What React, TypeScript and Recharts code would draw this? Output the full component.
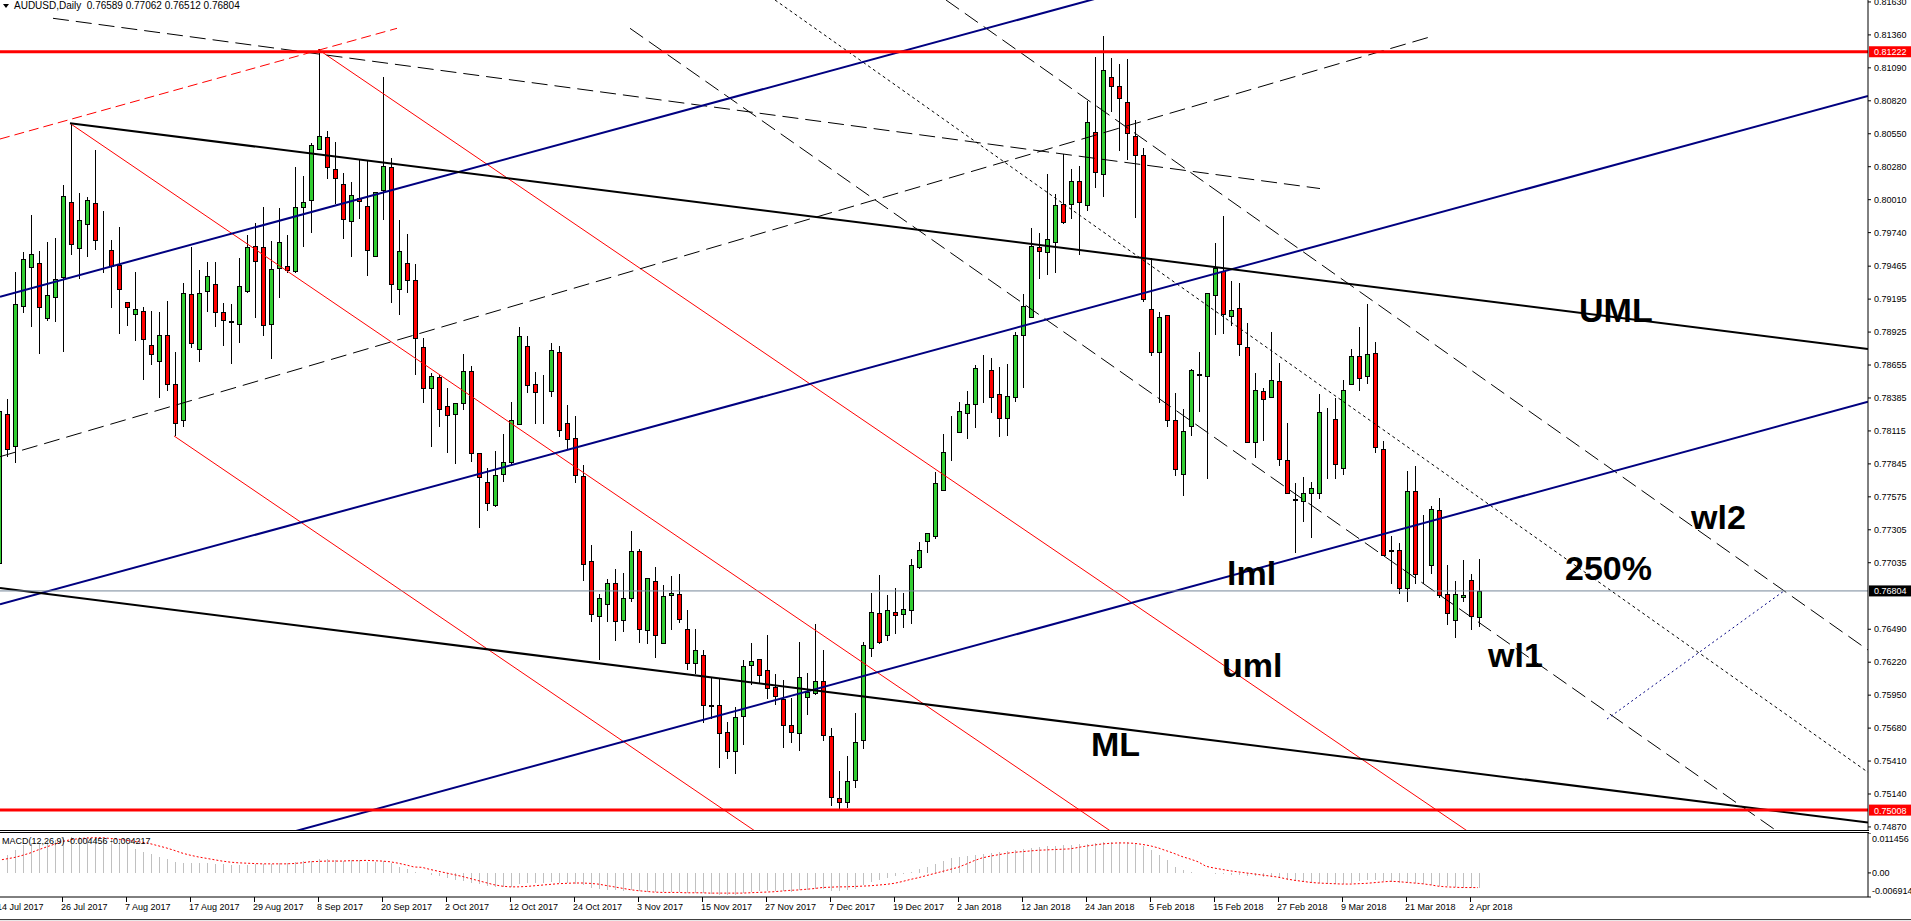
import React from "react";
import { ComposedChart, Bar, Line, XAxis, YAxis, ReferenceLine, ReferenceDot } from "recharts";

// ─── Data (AUDUSD daily, bar 0 = 14 Jul 2017) ─────────────
const OPEN = [
  0.7703, 0.78251, 0.77994, 0.79139, 0.79455, 0.79488, 0.79038, 0.7921, 0.79374, 0.79988,
  0.79611, 0.79811, 0.7998, 0.79658, 0.79595, 0.79472, 0.79169, 0.7907, 0.791, 0.78819,
  0.78691, 0.78898, 0.78497, 0.78205, 0.79234, 0.78784, 0.79259, 0.79316, 0.79087, 0.79019,
  0.78989, 0.79259, 0.79628, 0.79619, 0.78989, 0.79447, 0.79464, 0.79423, 0.79947, 0.80004,
  0.80422, 0.80521, 0.80258, 0.80141, 0.79832, 0.80026, 0.79955, 0.79551, 0.80086, 0.80275,
  0.79275, 0.79489, 0.79352, 0.78806, 0.78467, 0.78553, 0.78317, 0.78251, 0.7834, 0.78605,
  0.77932, 0.77693, 0.77509, 0.77762, 0.77857, 0.78173, 0.78812, 0.78501, 0.78444, 0.78446,
  0.7876, 0.78179, 0.78055, 0.77742, 0.77046, 0.76601, 0.76693, 0.76865, 0.76563, 0.7675,
  0.7713, 0.76483, 0.76885, 0.76374, 0.7677, 0.76776, 0.76491, 0.76213, 0.76276, 0.75865,
  0.75868, 0.75649, 0.75491, 0.75778, 0.76198, 0.76244, 0.76153, 0.76019, 0.75921, 0.75703,
  0.75637, 0.75932, 0.75965, 0.76063, 0.75612, 0.75107, 0.75072, 0.75255, 0.7558, 0.76336,
  0.7662, 0.7644, 0.76628, 0.76612, 0.76645, 0.76997, 0.7721, 0.77251, 0.77631, 0.77978,
  0.78109, 0.78259, 0.78333, 0.78606, 0.78614, 0.78418, 0.78218, 0.78396, 0.78901, 0.79049,
  0.7962, 0.79578, 0.79666, 0.79972, 0.79972, 0.8016, 0.79964, 0.80562, 0.80218, 0.81012,
  0.80941, 0.80807, 0.80529, 0.80376, 0.79112, 0.78759, 0.79063, 0.78202, 0.77762, 0.78155,
  0.78576, 0.78565, 0.79229, 0.79423, 0.79055, 0.79121, 0.788, 0.78022, 0.7844, 0.7839,
  0.78523, 0.77878, 0.77554, 0.7754, 0.7761, 0.7761, 0.7823, 0.7821, 0.77814, 0.78498,
  0.78728, 0.78565, 0.78753, 0.77967, 0.77139, 0.77139, 0.76826, 0.77621, 0.7694, 0.77014,
  0.77463, 0.76776, 0.76566, 0.76752, 0.7689, 0.76589,
];
const HIGH = [
  0.784, 0.78377, 0.79415, 0.79578, 0.79884, 0.79587, 0.79663, 0.79696, 0.80127, 0.80635,
  0.80062, 0.80029, 0.80417, 0.79914, 0.79679, 0.79783, 0.79169, 0.79415, 0.79133, 0.79098,
  0.79087, 0.7918, 0.78759, 0.79327, 0.79619, 0.79434, 0.79499, 0.79499, 0.79161, 0.79152,
  0.79529, 0.7972, 0.79819, 0.79947, 0.79669, 0.79939, 0.7972, 0.8028, 0.80207, 0.80477,
  0.81242, 0.80572, 0.80482, 0.80226, 0.80152, 0.80338, 0.80338, 0.8007, 0.81012, 0.80349,
  0.79843, 0.79726, 0.7948, 0.78878, 0.7859, 0.78576, 0.78467, 0.78346, 0.78743, 0.78648,
  0.77932, 0.77808, 0.77952, 0.78087, 0.78352, 0.78964, 0.78892, 0.78599, 0.78573, 0.78835,
  0.78812, 0.78331, 0.78237, 0.77837, 0.77181, 0.76776, 0.76903, 0.7698, 0.76951, 0.77294,
  0.77144, 0.76908, 0.77, 0.76851, 0.76923, 0.76943, 0.7665, 0.76491, 0.76319, 0.76095,
  0.7608, 0.7573, 0.7585, 0.76238, 0.76376, 0.76244, 0.76443, 0.76123, 0.76074, 0.75929,
  0.76385, 0.76134, 0.76533, 0.7632, 0.75678, 0.75331, 0.75451, 0.75801, 0.76385, 0.7679,
  0.76937, 0.7677, 0.76828, 0.7679, 0.77065, 0.77202, 0.77278, 0.77781, 0.78092, 0.78237,
  0.7835, 0.78442, 0.78655, 0.78737, 0.7871, 0.78642, 0.78664, 0.78928, 0.79234, 0.79775,
  0.7974, 0.8022, 0.80056, 0.80381, 0.80261, 0.80286, 0.80818, 0.81182, 0.81354, 0.81168,
  0.81122, 0.8116, 0.80663, 0.80431, 0.79529, 0.79087, 0.79063, 0.78426, 0.78296, 0.78625,
  0.78758, 0.79243, 0.79658, 0.79877, 0.7934, 0.79326, 0.78999, 0.78589, 0.78468, 0.78924,
  0.7867, 0.78183, 0.7769, 0.77734, 0.77693, 0.78418, 0.78299, 0.78382, 0.78531, 0.78786,
  0.78969, 0.79154, 0.78841, 0.7803, 0.77255, 0.772, 0.77787, 0.77831, 0.77424, 0.77496,
  0.77568, 0.77014, 0.76884, 0.77056, 0.76945, 0.77062,
];
const LOW = [
  0.769, 0.77904, 0.7785, 0.79079, 0.78964, 0.78743, 0.79018, 0.7901, 0.78765, 0.79557,
  0.79357, 0.79543, 0.79598, 0.79406, 0.79125, 0.78907, 0.78978, 0.78855, 0.78532, 0.78655,
  0.78382, 0.78442, 0.78074, 0.7815, 0.78792, 0.78683, 0.79092, 0.78964, 0.78814, 0.78661,
  0.78838, 0.79242, 0.79043, 0.7889, 0.78702, 0.79207, 0.79406, 0.79406, 0.79625, 0.79734,
  0.80417, 0.80176, 0.79972, 0.79688, 0.79543, 0.79854, 0.79387, 0.79543, 0.79843, 0.79161,
  0.79065, 0.79248, 0.78576, 0.78346, 0.77986, 0.7815, 0.77938, 0.77843, 0.78283, 0.77857,
  0.77317, 0.7746, 0.77489, 0.77699, 0.77834, 0.78168, 0.78423, 0.7817, 0.78173, 0.78395,
  0.78067, 0.77966, 0.7769, 0.76888, 0.76549, 0.76241, 0.76549, 0.76391, 0.76468, 0.76713,
  0.76379, 0.76368, 0.76256, 0.76374, 0.76486, 0.76543, 0.76152, 0.76126, 0.75724, 0.75758,
  0.7535, 0.75428, 0.75307, 0.75543, 0.76031, 0.7604, 0.75921, 0.75869, 0.75514, 0.75555,
  0.75495, 0.75785, 0.75951, 0.75572, 0.75044, 0.75003, 0.75023, 0.75186, 0.75511, 0.7626,
  0.76366, 0.76396, 0.76448, 0.76503, 0.7653, 0.76981, 0.77117, 0.77226, 0.77625, 0.77871,
  0.78095, 0.78046, 0.78136, 0.78341, 0.78259, 0.78063, 0.78074, 0.78355, 0.78464, 0.79049,
  0.79357, 0.7939, 0.79406, 0.79811, 0.79852, 0.79554, 0.7992, 0.80103, 0.80029, 0.80726,
  0.80411, 0.80335, 0.79857, 0.79169, 0.78732, 0.78341, 0.78149, 0.77742, 0.77579, 0.78077,
  0.78266, 0.77718, 0.78902, 0.78911, 0.78974, 0.78725, 0.78022, 0.77892, 0.7803, 0.7839,
  0.77825, 0.77604, 0.77111, 0.77366, 0.77241, 0.77554, 0.77718, 0.77718, 0.77754, 0.78498,
  0.78446, 0.78501, 0.77933, 0.77098, 0.76857, 0.76779, 0.76716, 0.76859, 0.76857, 0.76943,
  0.76743, 0.76527, 0.76417, 0.7671, 0.7648, 0.76512,
];
const CLOSE = [
  0.7828, 0.77964, 0.79152, 0.79521, 0.79562, 0.79128, 0.79226, 0.79357, 0.80037, 0.79644,
  0.79841, 0.80004, 0.79677, 0.79655, 0.79466, 0.79275, 0.79128, 0.79111, 0.78866, 0.78745,
  0.78898, 0.78497, 0.78177, 0.79242, 0.78833, 0.79242, 0.79382, 0.79087, 0.79024, 0.79005,
  0.793, 0.79619, 0.79505, 0.7898, 0.79442, 0.7966, 0.79434, 0.79947, 0.79988, 0.80455,
  0.80529, 0.8028, 0.80187, 0.79849, 0.80045, 0.79996, 0.79595, 0.8007, 0.80288, 0.79322,
  0.79587, 0.79352, 0.78878, 0.78467, 0.78561, 0.78294, 0.78242, 0.7834, 0.7861, 0.77932,
  0.77736, 0.77521, 0.77751, 0.77863, 0.78202, 0.78892, 0.7849, 0.78432, 0.7844, 0.78777,
  0.78124, 0.78047, 0.77751, 0.77023, 0.76612, 0.7675, 0.76865, 0.76558, 0.7675, 0.7713,
  0.76489, 0.76908, 0.7644, 0.76759, 0.76785, 0.76572, 0.76213, 0.76316, 0.75873, 0.7587,
  0.75638, 0.75491, 0.75767, 0.76187, 0.76227, 0.76112, 0.76006, 0.7594, 0.75703, 0.75645,
  0.76099, 0.75973, 0.76069, 0.75621, 0.75113, 0.75072, 0.75247, 0.75563, 0.76358, 0.76628,
  0.76383, 0.76645, 0.76604, 0.76653, 0.77013, 0.77136, 0.77278, 0.77685, 0.77939, 0.77975,
  0.78275, 0.78333, 0.78628, 0.7861, 0.7839, 0.78218, 0.78401, 0.78901, 0.79139, 0.79628,
  0.79592, 0.79685, 0.79966, 0.79824, 0.8016, 0.79988, 0.80644, 0.80234, 0.8107, 0.80939,
  0.8084, 0.80554, 0.80373, 0.79196, 0.78759, 0.79046, 0.78202, 0.77801, 0.78113, 0.78612,
  0.7858, 0.79243, 0.79448, 0.79077, 0.79107, 0.78825, 0.78022, 0.78448, 0.78376, 0.78531,
  0.77881, 0.77604, 0.7755, 0.77604, 0.77646, 0.78271, 0.78226, 0.77842, 0.78448, 0.78728,
  0.78548, 0.78744, 0.77983, 0.77098, 0.77135, 0.76826, 0.77621, 0.76943, 0.76945, 0.77477,
  0.76771, 0.76621, 0.76779, 0.76771, 0.76599, 0.76804,
];

const MACD_MAIN = [
  0.0045, 0.0052, 0.0065, 0.0079, 0.0085, 0.0085, 0.0089, 0.0095, 0.0102, 0.0102,
  0.0102, 0.0102, 0.0102, 0.0101, 0.01, 0.0097, 0.0082, 0.0069, 0.0061, 0.0053,
  0.0047, 0.004, 0.003, 0.0028, 0.0028, 0.0028, 0.0028, 0.0026, 0.0026, 0.0024,
  0.0024, 0.0024, 0.0026, 0.0026, 0.0026, 0.0028, 0.0028, 0.003, 0.0033, 0.0034,
  0.004, 0.004, 0.0038, 0.0034, 0.0038, 0.0036, 0.003, 0.003, 0.0033, 0.0028,
  0.0016, 0.001, 0.0003, 0.0, -0.0005, -0.001, -0.0015, -0.002, -0.0022, -0.0028,
  -0.0033, -0.0037, -0.004, -0.0041, -0.004, -0.0033, -0.003, -0.0029, -0.0028, -0.0027,
  -0.0028, -0.0029, -0.0031, -0.0036, -0.0042, -0.0046, -0.0048, -0.005, -0.0051, -0.005,
  -0.0053, -0.0055, -0.0056, -0.0055, -0.0054, -0.0055, -0.0057, -0.0057, -0.0059, -0.006,
  -0.0062, -0.0063, -0.0062, -0.0058, -0.0055, -0.0053, -0.0052, -0.0052, -0.0053, -0.0054,
  -0.005, -0.0048, -0.0046, -0.0047, -0.0051, -0.0052, -0.005, -0.0045, -0.0035, -0.0026,
  -0.002, -0.0014, -0.0009, -0.0004, 0.0004, 0.0011, 0.0018, 0.0026, 0.0035, 0.0042,
  0.0045, 0.0048, 0.0052, 0.0055, 0.0058, 0.006, 0.0062, 0.0065, 0.0068, 0.0072,
  0.0074, 0.0076, 0.0078, 0.0079, 0.0081, 0.0082, 0.0084, 0.0086, 0.0088, 0.0089,
  0.0089, 0.0088, 0.0084, 0.0077, 0.0065, 0.0052, 0.0037, 0.0018, 0.0008, 0.0002,
  0.0, 0.0, -0.0002, -0.0004, -0.0005, -0.0006, -0.0009, -0.001, -0.0012, -0.0013,
  -0.0016, -0.002, -0.0024, -0.0026, -0.0028, -0.003, -0.0031, -0.0033, -0.0032, -0.0028,
  -0.0024, -0.0021, -0.002, -0.0024, -0.0027, -0.0029, -0.003, -0.003, -0.0031, -0.0034,
  -0.0037, -0.0039, -0.0041, -0.0042, -0.0044, -0.004456,
];
const MACD_SIGNAL = [
  0.0036, 0.004, 0.0044, 0.005, 0.0057, 0.0066, 0.0074, 0.0082, 0.009, 0.0095,
  0.0098, 0.01, 0.0101, 0.0101, 0.0099, 0.0097, 0.0094, 0.0091, 0.0088, 0.0084,
  0.0078, 0.0072, 0.0065, 0.0057, 0.0051, 0.0046, 0.0042, 0.0038, 0.0034, 0.0031,
  0.0029, 0.0028, 0.0027, 0.0026, 0.0026, 0.0026, 0.0026, 0.0027, 0.0029, 0.0032,
  0.0033, 0.0034, 0.0034, 0.0034, 0.0035, 0.0035, 0.0036, 0.0035, 0.0034, 0.0032,
  0.0028, 0.0023, 0.0017, 0.0016, 0.001, 0.0005, 0.0, -0.0005, -0.001, -0.0016,
  -0.0022, -0.0028, -0.0034, -0.0038, -0.004, -0.004, -0.0039, -0.0037, -0.0035, -0.0033,
  -0.0031, -0.003, -0.0029, -0.0029, -0.003, -0.0032, -0.0036, -0.004, -0.0044, -0.0048,
  -0.0051, -0.0053, -0.0055, -0.0056, -0.0056, -0.0056, -0.0057, -0.0057, -0.0057, -0.0058,
  -0.0058, -0.0058, -0.0058, -0.0058, -0.0057, -0.0056, -0.0055, -0.0054, -0.0052, -0.005,
  -0.0049, -0.0047, -0.0045, -0.0042, -0.0041, -0.004, -0.004, -0.0039, -0.0038, -0.0037,
  -0.0035, -0.0033, -0.003, -0.0025, -0.0019, -0.0014, -0.0008, -0.0002, 0.0004, 0.001,
  0.0016, 0.0025, 0.0035, 0.0043, 0.0048, 0.0052, 0.0056, 0.0059, 0.0061, 0.0063,
  0.0065, 0.0066, 0.0067, 0.0068, 0.0069, 0.0073, 0.0077, 0.008, 0.0083, 0.0085,
  0.0086, 0.0086, 0.0085, 0.0082, 0.0078, 0.0072, 0.0064, 0.0056, 0.0047, 0.004,
  0.0032, 0.0019, 0.0014, 0.001, 0.0006, 0.0003, 0.0, -0.0003, -0.0006, -0.0009,
  -0.0012, -0.0017, -0.0021, -0.0024, -0.0027, -0.0029, -0.003, -0.0031, -0.0032, -0.0032,
  -0.0031, -0.003, -0.0028, -0.0026, -0.0024, -0.0025, -0.0027, -0.0029, -0.0031, -0.0034,
  -0.0038, -0.004, -0.0041, -0.0042, -0.0042, -0.004217,
];

// one date label every 8 bars, starting at bar 0
const DATE_LABELS = [
  "14 Jul 2017", "26 Jul 2017", "7 Aug 2017", "17 Aug 2017", "29 Aug 2017", "8 Sep 2017",
  "20 Sep 2017", "2 Oct 2017", "12 Oct 2017", "24 Oct 2017", "3 Nov 2017", "15 Nov 2017",
  "27 Nov 2017", "7 Dec 2017", "19 Dec 2017", "2 Jan 2018", "12 Jan 2018", "24 Jan 2018",
  "5 Feb 2018", "15 Feb 2018", "27 Feb 2018", "9 Mar 2018", "21 Mar 2018", "2 Apr 2018",
];
const PRICE_TICKS = [
  0.8163, 0.8136, 0.8109, 0.8082, 0.8055, 0.8028, 0.8001, 0.7974, 0.79465, 0.79195,
  0.78925, 0.78655, 0.78385, 0.78115, 0.77845, 0.77575, 0.77305, 0.77035, 0.7649, 0.7622,
  0.7595, 0.7568, 0.7541, 0.7514, 0.7487,
];
const MACD_TICKS = [0.011456, 0, -0.006914];
const MACD_TICK_LABELS = ["0.011456", "0.00", "-0.006914"];

const SUPPORT = 0.75008;
const RESIST = 0.81222;
const LAST = 0.76804;

// trend lines: [bar, price] pairs
const UML = [[9, 0.80636], [233.75, 0.78786]];
const ML = [[0.25, 0.76827], [233.75, 0.74906]];
const CH_TOP = [[0.25, 0.79215], [233.75, 0.83378]];
const CH_MID = [[0.25, 0.76695], [233.75, 0.80859]];
const CH_LOW = [[0.25, 0.74175], [233.75, 0.78354]];
const RED_A = [[9, 0.80635], [150.25, 0.74338]];
const RED_B = [[40, 0.81242], [187.75, 0.74655]];
const RED_C = [[22, 0.78074], [100.25, 0.74586]];
const RED_DASH = [[0.25, 0.80507], [49.875, 0.81414]];
const DASH_1 = [[6.875, 0.81496], [165.25, 0.80101]];
const DASH_2 = [[0.25, 0.77904], [179.5, 0.81353]];
const WL1 = [[79, 0.81414], [225.25, 0.74704]];
const WL2 = [[118.5, 0.81646], [233.75, 0.7632]];
const P250 = [[97.125, 0.81646], [233.75, 0.75318]];
const BLUE_DOT = [[201.125, 0.75754], [223.125, 0.76798]];

// annotations: [text, bar, price]
const NOTES: [string, number, number][] = [
  ["UML", 197.625, 0.79008],
  ["wl2", 211.625, 0.77311],
  ["250%", 195.875, 0.76894],
  ["lml", 153.625, 0.76853],
  ["uml", 153, 0.76099],
  ["wl1", 186.25, 0.76181],
  ["ML", 136.625, 0.75451],
];

const TOTAL_BARS = 234;
const FONT = "'Liberation Sans', Arial, sans-serif";
const UP = "#32cd32";
const DOWN = "#ff0000";

const ROWS = Array.from({ length: TOTAL_BARS }, (_, i) => {
  const has = i < OPEN.length;
  return {
    i,
    o: has ? OPEN[i] : null,
    h: has ? HIGH[i] : null,
    l: has ? LOW[i] : null,
    c: has ? CLOSE[i] : null,
    range: has ? [LOW[i], HIGH[i]] : null,
    hist: has ? MACD_MAIN[i] : null,
    sig: has ? MACD_SIGNAL[i] : null,
  };
});
const DATE_TICKS = DATE_LABELS.map((_, k) => k * 8);

// ─── Shapes ───────────────────────────────────────────────
function Candle(props: any) {
  const { x, y, width, height, payload } = props;
  if (!payload || payload.o == null) return null;
  const { o, h, l, c } = payload;
  const top = Math.min(y, y + height);
  const bot = Math.max(y, y + height);
  const toY = (v: number) => (h === l ? top : top + ((h - v) / (h - l)) * (bot - top));
  const cx = Math.round(x + width / 2);
  const bTop = Math.round(toY(Math.max(o, c)));
  const bBot = Math.round(toY(Math.min(o, c)));
  return (
    <g shapeRendering="crispEdges">
      <line x1={ cx + 0.5 } x2={ cx + 0.5 } y1={ top } y2={ bot } stroke="#000" />
      <rect
        x={ cx - 1.5 }
        y={ bTop + 0.5 }
        width={ 4 }
        height={ Math.max(bBot - bTop, 0) }
        fill={ c >= o ? UP : DOWN }
        stroke="#000"
      />
    </g>
  );
}

function HistBar(props: any) {
  const { x, y, width, height, payload } = props;
  if (!payload || payload.hist == null) return null;
  const top = Math.min(y, y + height);
  return (
    <rect
      x={ Math.round(x + width / 2) }
      y={ top }
      width={ 1 }
      height={ Math.max(Math.abs(height), 0.5) }
      fill="#c0c0c0"
      shapeRendering="crispEdges"
    />
  );
}

function PriceTick({ x, y, payload }: any) {
  return (
    <text x={ x } y={ y + 3 } fontSize={ 9 } fontFamily={ FONT } fill="#000" textAnchor="start">
      { Number(payload.value).toFixed(5) }
    </text>
  );
}

function MacdTick({ x, y, payload }: any) {
  const k = MACD_TICKS.indexOf(payload.value);
  const dy = payload.value > 0 ? 9 : payload.value < 0 ? -3 : 3;
  return (
    <text x={ x } y={ y + dy } fontSize={ 9 } fontFamily={ FONT } fill="#000" textAnchor="start">
      { MACD_TICK_LABELS[ k ] }
    </text>
  );
}

function DateTick({ x, y, payload }: any) {
  const label = DATE_LABELS[ payload.value / 8 ];
  return (
    <g>
      <line x1={ x + 0.5 } x2={ x + 0.5 } y1={ y } y2={ y + 5 } stroke="#000" shapeRendering="crispEdges" />
      <text x={ x - 1 } y={ y + 13 } fontSize={ 9 } fontFamily={ FONT } fill="#000" textAnchor="start">
        { label }
      </text>
    </g>
  );
}

const priceTag = (text: string, bg: string) => (props: any) => {
  const vb = props.viewBox;
  if (!vb) return null;
  const x = vb.x + vb.width + 1;
  return (
    <g>
      <rect x={ x } y={ vb.y - 5.5 } width={ 43 } height={ 11 } fill={ bg } />
      <text x={ x + 5 } y={ vb.y + 3.5 } fontSize={ 9 } fontFamily={ FONT } fill="#fff">
        { text }
      </text>
    </g>
  );
};

const seg = (pts: number[][]) => pts.map(([ x, y ]) => ({ x, y }));

// ─── Chart ────────────────────────────────────────────────
export default function App() {
  const line = (pts: number[][], stroke: string, width: number, dash?: string) => (
    <ReferenceLine
      xAxisId="num"
      segment={ seg(pts) }
      stroke={ stroke }
      strokeWidth={ width }
      strokeDasharray={ dash }
      ifOverflow="hidden"
    />
  );

  return (
    <div style={ { position: "absolute", left: 0, top: 0, width: 1911, height: 921, background: "#fff", overflow: "hidden" } }>
      <div style={ { position: "absolute", left: 0, top: 0 } }>
        <ComposedChart width={ 1911 } height={ 830 } data={ ROWS } margin={ { top: 0, right: 0, bottom: 0, left: 0 } }>
          <XAxis xAxisId="cat" dataKey="i" type="category" hide padding={ { left: -6, right: 2 } } />
          <XAxis xAxisId="num" dataKey="i" type="number" hide domain={ [ 0.25, 233.75 ] } allowDataOverflow />
          <YAxis
            orientation="right"
            width={ 43 }
            domain={ [ 0.74845, 0.81646 ] }
            allowDataOverflow
            ticks={ PRICE_TICKS }
            interval={ 0 }
            tick={ <PriceTick /> }
            tickSize={ 3 }
            tickMargin={ 3 }
            axisLine={ { stroke: "#000" } }
            tickLine={ { stroke: "#000" } }
          />
          <Bar xAxisId="cat" dataKey="range" barSize={ 5 } shape={ <Candle /> } isAnimationActive={ false } />

          { line(RED_A, "#ff0000", 1) }
          { line(RED_B, "#ff0000", 1) }
          { line(RED_C, "#ff0000", 1) }
          { line(RED_DASH, "#ff0000", 1, "10 5") }
          { line(DASH_1, "#000", 1, "16 7") }
          { line(DASH_2, "#000", 1, "16 7") }
          { line(WL1, "#000", 1, "16 7") }
          { line(WL2, "#000", 1, "16 7") }
          { line(P250, "#000", 1, "3 3") }
          { line(BLUE_DOT, "#000080", 1, "2 3") }
          { line(CH_TOP, "#000080", 2) }
          { line(CH_MID, "#000080", 2) }
          { line(CH_LOW, "#000080", 2) }
          { line(UML, "#000", 2) }
          { line(ML, "#000", 2) }

          <ReferenceLine xAxisId="cat" y={ LAST } stroke="#778899" strokeWidth={ 1 } label={ priceTag("0.76804", "#000") } />
          <ReferenceLine xAxisId="cat" y={ RESIST } stroke="#ff0000" strokeWidth={ 3 } label={ priceTag("0.81222", "#ff0000") } />
          <ReferenceLine xAxisId="cat" y={ SUPPORT } stroke="#ff0000" strokeWidth={ 3 } label={ priceTag("0.75008", "#ff0000") } />

          { NOTES.map(([ text, bx, py ]) => (
            <ReferenceDot
              key={ text }
              xAxisId="num"
              x={ bx }
              y={ py }
              r={ 0 }
              ifOverflow="visible"
              shape={ (p: any) => (
                <text x={ p.cx } y={ p.cy } fontSize={ 34 } fontWeight="bold" fontFamily={ FONT } fill="#000">
                  { text }
                </text>
              ) }
            />
          )) }
        </ComposedChart>
      </div>

      <div style={ { position: "absolute", left: 0, top: 830, width: 1869, height: 3, boxSizing: "border-box", borderTop: "1px solid #000", borderBottom: "1px solid #000" } } />

      <div style={ { position: "absolute", left: 0, top: 833 } }>
        <ComposedChart width={ 1911 } height={ 88 } data={ ROWS } margin={ { top: 0, right: 0, bottom: 0, left: 0 } }>
          <XAxis
            xAxisId="cat"
            dataKey="i"
            type="category"
            padding={ { left: -6, right: 2 } }
            ticks={ DATE_TICKS }
            interval={ 0 }
            height={ 24 }
            tickSize={ 0 }
            tickMargin={ 0 }
            tickLine={ false }
            axisLine={ { stroke: "#000" } }
            tick={ <DateTick /> }
          />
          <YAxis
            orientation="right"
            width={ 43 }
            domain={ [ -0.006914, 0.011456 ] }
            allowDataOverflow
            ticks={ MACD_TICKS }
            interval={ 0 }
            tick={ <MacdTick /> }
            tickSize={ 3 }
            tickMargin={ 1 }
            axisLine={ { stroke: "#000" } }
            tickLine={ { stroke: "#000" } }
          />
          <Bar xAxisId="cat" dataKey="hist" barSize={ 1 } shape={ <HistBar /> } isAnimationActive={ false } />
          <Line
            xAxisId="cat"
            dataKey="sig"
            type="linear"
            stroke="#ff0000"
            strokeWidth={ 1 }
            strokeDasharray="2 2"
            dot={ false }
            activeDot={ false }
            isAnimationActive={ false }
          />
        </ComposedChart>
      </div>

      <div style={ { position: "absolute", left: 0, top: 919, width: 1911, height: 2, boxSizing: "border-box", borderTop: "1px solid #404040", background: "#e8e8e8" } } />

      <div style={ { position: "absolute", left: 3, top: 0, height: 11, display: "flex", alignItems: "center", gap: 5, fontFamily: FONT, fontSize: 10, color: "#000", whiteSpace: "pre" } }>
        <svg width={ 6 } height={ 4 }><polygon points="0,0 6,0 3,4" fill="#000" /></svg>
        <span>AUDUSD,Daily  0.76589 0.77062 0.76512 0.76804</span>
      </div>
      <div style={ { position: "absolute", left: 2, top: 836, fontFamily: FONT, fontSize: 9, color: "#000", whiteSpace: "pre" } }>
        MACD(12,26,9) -0.004456 -0.004217
      </div>
    </div>
  );
}
